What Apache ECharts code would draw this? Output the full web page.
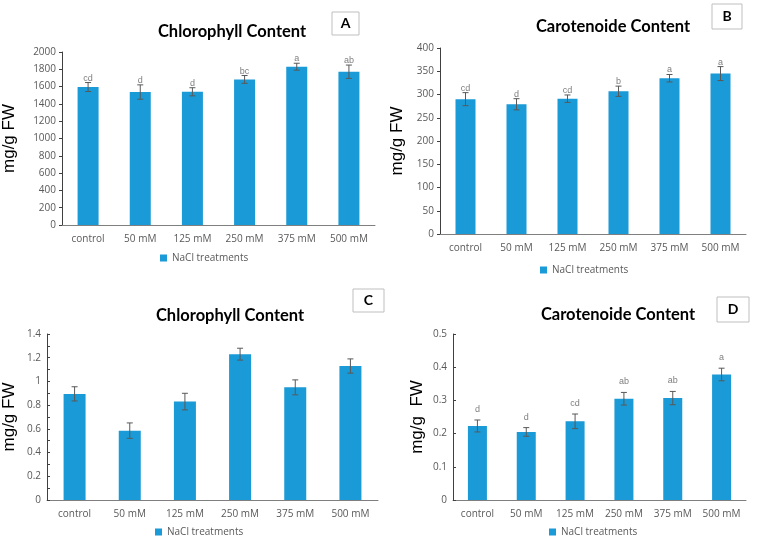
<!DOCTYPE html>
<html lang="en">
  <head>
    <meta charset="UTF-8" />
    <title>NaCl pigments</title>
    <style>
      body {
        margin: 0;
        background: #fff;
      }
      main {
        width: 759px;
        height: 540px;
      }
    </style>
  </head>
  <body>
    <main></main>
  </body>
</html>
<script src="https://cdn.jsdelivr.net/npm/echarts@6/dist/echarts.min.js"></script>
<script>
  var categories = ["control", "50 mM", "125 mM", "250 mM", "375 mM", "500 mM"];

  // A - chlorophyll (first set)
  var chlA = [1595, 1537, 1540, 1683, 1830, 1772];
  var chlAErr = [52, 83, 47, 45, 40, 77];
  var chlALetters = ["cd", "d", "d", "bc", "a", "ab"];

  // B - carotenoide (first set)
  var carB = [290, 279, 291, 307, 335, 345];
  var carBErr = [14, 12, 8, 11, 8, 15];
  var carBLetters = ["cd", "d", "cd", "b", "a", "a"];

  // C - chlorophyll (second set)
  var chlC = [0.895, 0.585, 0.83, 1.23, 0.95, 1.13];
  var chlCErr = [0.06, 0.065, 0.07, 0.05, 0.063, 0.06];

  // D - carotenoide (second set)
  var carD = [0.223, 0.205, 0.237, 0.305, 0.307, 0.378];
  var carDErr = [0.018, 0.013, 0.022, 0.019, 0.02, 0.019];
  var carDLetters = ["d", "d", "cd", "ab", "ab", "a"];

  var blue = "#1a9ad6";
  var grey = "#595959";

  const chart = echarts.init(document.querySelector("main"));

  function errData(vals, errs, letters) {
    return vals.map(function (v, i) {
      return [i, v, errs[i], letters ? letters[i] : ""];
    });
  }

  function errSeries(idx, vals, errs, letters, labelGap) {
    return {
      type: "custom",
      xAxisIndex: idx,
      yAxisIndex: idx,
      silent: true,
      z: 5,
      data: errData(vals, errs, letters),
      renderItem: function (params, api) {
        var x = api.value(0);
        var v = api.value(1);
        var e = api.value(2);
        var top = api.coord([x, v + e]);
        var bot = api.coord([x, v - e]);
        var cap = 3;
        var style = { stroke: grey, lineWidth: 1 };
        var children = [
          { type: "line", shape: { x1: top[0], y1: top[1], x2: bot[0], y2: bot[1] }, style: style },
          { type: "line", shape: { x1: top[0] - cap, y1: top[1], x2: top[0] + cap, y2: top[1] }, style: style },
          { type: "line", shape: { x1: bot[0] - cap, y1: bot[1], x2: bot[0] + cap, y2: bot[1] }, style: style },
        ];
        var txt = api.value(3);
        if (txt) {
          children.push({
            type: "text",
            style: {
              text: txt,
              x: top[0],
              y: top[1] - labelGap,
              align: "center",
              verticalAlign: "bottom",
              fill: "#7f7f7f",
              font: "9px 'Liberation Sans', Arial, sans-serif",
            },
          });
        }
        return { type: "group", children: children };
      },
    };
  }

  var gridDefs = [
    { left: 62, right: 384, top: 52, bottom: 315 },
    { left: 440, right: 13, top: 48, bottom: 306 },
    { left: 46, right: 381, top: 334, bottom: 40 },
    { left: 453, right: 13, top: 334, bottom: 40 },
  ];

  var yDefs = [
    { max: 2000, interval: 200, nameGap: 44, tickIn: false, minor: false, name: "mg/g FW" },
    { max: 400, interval: 50, nameGap: 34, tickIn: false, minor: false, name: "mg/g FW" },
    { max: 1.4, interval: 0.2, nameGap: 29, tickIn: true, minor: true, name: "mg/g FW" },
    { max: 0.5, interval: 0.1, nameGap: 27, tickIn: true, minor: false, name: "mg/g  FW" },
  ];

  var xAxes = gridDefs.map(function (g, i) {
    return {
      type: "category",
      gridIndex: i,
      data: categories,
      axisLine: { lineStyle: { color: "#7f7f7f", width: 1 } },
      axisTick: { show: false },
      axisLabel: {
        interval: 0,
        hideOverlap: false,
        color: grey,
        fontSize: 10,
        margin: 9,
        fontFamily: "'Open Sans', sans-serif",
      },
    };
  });

  var yAxes = yDefs.map(function (d, i) {
    return {
      type: "value",
      gridIndex: i,
      min: 0,
      max: d.max,
      interval: d.interval,
      name: d.name,
      nameLocation: "middle",
      nameGap: d.nameGap,
      nameTextStyle: {
        color: "#000",
        fontSize: 17,
        fontFamily: "'Liberation Sans', Arial, sans-serif",
      },
      splitLine: { show: false },
      axisLine: { show: true, lineStyle: { color: "#404040", width: 1 } },
      axisTick: { show: true, inside: d.tickIn, length: 3, lineStyle: { color: "#404040" } },
      minorTick: { show: d.minor, splitNumber: 2, length: 3, lineStyle: { color: "#404040" } },
      axisLabel: {
        color: grey,
        fontSize: 10,
        margin: 6,
        fontFamily: "'Open Sans', sans-serif",
        formatter: function (v) {
          return String(Math.round(v * 100) / 100);
        },
      },
    };
  });

  var barWidths = [21, 20, 22, 19];
  var barValues = [chlA, carB, chlC, carD];

  var bars = barValues.map(function (vals, i) {
    return {
      name: "NaCl treatments",
      type: "bar",
      xAxisIndex: i,
      yAxisIndex: i,
      data: vals,
      barWidth: barWidths[i],
      itemStyle: { color: blue },
    };
  });

  var legendPos = [
    { left: 155, top: 248 },
    { left: 535, top: 260 },
    { left: 150, top: 522 },
    { left: 544, top: 522 },
  ];

  var legends = legendPos.map(function (p) {
    return {
      left: p.left,
      top: p.top,
      icon: "rect",
      itemWidth: 7,
      itemHeight: 7,
      itemGap: 4,
      textStyle: { color: grey, fontSize: 10, fontFamily: "'Open Sans', sans-serif" },
      data: ["NaCl treatments"],
    };
  });

  var titles = [
    { text: "Chlorophyll Content", x: 232, y: 32 },
    { text: "Carotenoide Content", x: 613, y: 27 },
    { text: "Chlorophyll Content", x: 230, y: 316 },
    { text: "Carotenoide Content", x: 618, y: 315 },
  ];

  var boxes = [
    { text: "A", x: 332, y: 12, w: 27, h: 23 },
    { text: "B", x: 712, y: 4, w: 30, h: 25 },
    { text: "C", x: 353, y: 289, w: 31, h: 23 },
    { text: "D", x: 717, y: 297, w: 32, h: 25 },
  ];

  var graphics = [];
  titles.forEach(function (t) {
    graphics.push({
      type: "text",
      x: t.x,
      y: t.y,
      style: {
        text: t.text,
        align: "center",
        verticalAlign: "middle",
        fill: "#000",
        font: "bold 16.5px Lato, 'Open Sans', sans-serif",
      },
    });
  });
  boxes.forEach(function (b) {
    graphics.push({
      type: "rect",
      shape: { x: b.x, y: b.y, width: b.w, height: b.h },
      style: { fill: "#fff", stroke: "#bfbfbf", lineWidth: 1 },
    });
    graphics.push({
      type: "text",
      x: b.x + b.w / 2,
      y: b.y + b.h / 2,
      style: {
        text: b.text,
        align: "center",
        verticalAlign: "middle",
        fill: "#000",
        font: "bold 14px Lato, 'Open Sans', sans-serif",
      },
    });
  });

  var option = {
    animation: false,
    grid: gridDefs,
    xAxis: xAxes,
    yAxis: yAxes,
    legend: legends,
    graphic: graphics,
    series: bars.concat([
      errSeries(0, chlA, chlAErr, chlALetters, 0),
      errSeries(1, carB, carBErr, carBLetters, 0),
      errSeries(2, chlC, chlCErr, null, 0),
      errSeries(3, carD, carDErr, carDLetters, 6),
    ]),
  };
  chart.setOption(option);
</script>
